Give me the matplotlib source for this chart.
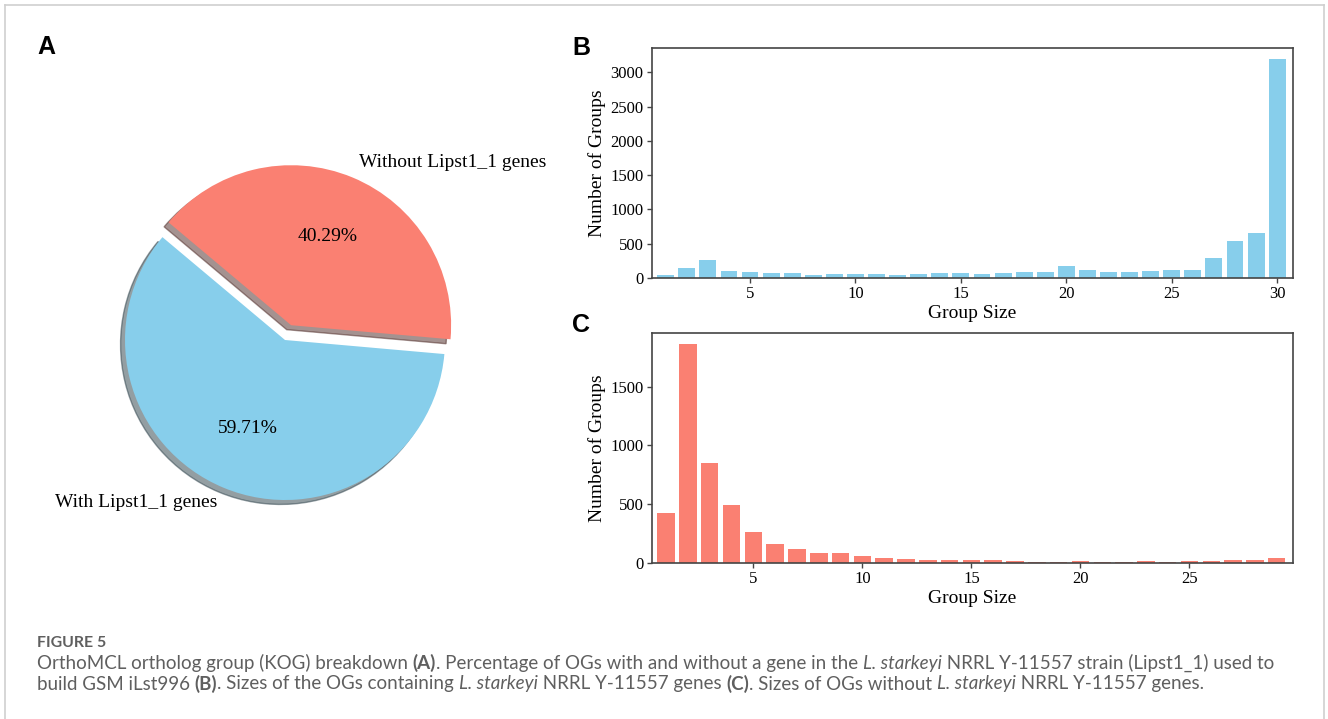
import matplotlib
matplotlib.use("Agg")
import matplotlib.pyplot as plt
from matplotlib.lines import Line2D

# ---------------- data ----------------
pie_labels = ["With Lipst1_1 genes", "Without Lipst1_1 genes"]
pie_sizes = [59.71, 40.29]

sizes_b = list(range(1, 31))
counts_b = [40, 150, 258, 102, 88, 68, 68, 44, 58, 58,
            58, 44, 58, 68, 68, 58, 78, 88, 88, 175,
            117, 88, 88, 102, 112, 122, 287, 536, 653, 3195]

sizes_c = list(range(1, 30))
counts_c = [428, 1863, 851, 491, 264, 164, 119, 82, 82, 60,
            40, 34, 28, 28, 28, 23, 17, 12, 12, 17,
            12, 12, 17, 12, 17, 17, 28, 28, 45]

yticks_b = [0, 500, 1000, 1500, 2000, 2500, 3000]
yticks_c = [0, 500, 1000, 1500]
xticks_b = [5, 10, 15, 20, 25, 30]
xticks_c = [5, 10, 15, 20, 25]

xlabel = "Group Size"
ylabel = "Number of Groups"

caption_title = "FIGURE 5"
caption_line1 = [
    ("OrthoMCL ortholog group (KOG) breakdown ", "normal", "normal"),
    ("(A)", "bold", "normal"),
    (". Percentage of OGs with and without a gene in the ", "normal", "normal"),
    ("L. starkeyi", "normal", "italic"),
    (" NRRL Y-11557 strain (Lipst1_1) used to", "normal", "normal"),
]
caption_line2 = [
    ("build GSM iLst996 ", "normal", "normal"),
    ("(B)", "bold", "normal"),
    (". Sizes of the OGs containing ", "normal", "normal"),
    ("L. starkeyi", "normal", "italic"),
    (" NRRL Y-11557 genes ", "normal", "normal"),
    ("(C)", "bold", "normal"),
    (". Sizes of OGs without ", "normal", "normal"),
    ("L. starkeyi", "normal", "italic"),
    (" NRRL Y-11557 genes.", "normal", "normal"),
]

# ---------------- style ----------------
BLUE = "#87CEEB"
RED = "#FA8072"
SERIF = ["Liberation Serif", "DejaVu Serif"]
W, H = 1328, 719

fig = plt.figure(figsize=(W / 100, H / 100), dpi=100)
fig.patch.set_facecolor("white")


def px_axes(left, top, right, bottom):
    return fig.add_axes([left / W, (H - bottom) / H, (right - left) / W, (bottom - top) / H])


# ---------------- Panel A: pie ----------------
cx, cy, R = 285, 340, 160
k = 1.25
axA = px_axes(cx - R * k, cy - R * k, cx + R * k, cy + R * k)
wedges, texts, autotexts = axA.pie(
    pie_sizes, labels=pie_labels, colors=[BLUE, RED], explode=(0, 0.1),
    autopct="%1.2f%%", shadow=True, startangle=140,
    textprops=dict(fontsize=14, family=SERIF))
axA.set_aspect("equal")
axA.set_xlim(-k, k)
axA.set_ylim(-k, k)
axA.axis("off")


# ---------------- Panels B, C: bars ----------------
def bar_panel(ax, xs, ys, color, yticks, xticks):
    ax.bar(xs, ys, width=0.8, color=color)
    ax.set_xlim(0.35, xs[-1] + 0.75)
    ax.set_xticks(xticks)
    ax.set_yticks(yticks)
    ax.set_xlabel(xlabel, fontsize=14, family=SERIF, labelpad=2)
    ax.set_ylabel(ylabel, fontsize=14, family=SERIF, labelpad=3)
    for lab in ax.get_xticklabels() + ax.get_yticklabels():
        lab.set_family(SERIF)
        lab.set_fontsize(12)
    for sp in ax.spines.values():
        sp.set_color("#444444")
        sp.set_linewidth(1.2)
    ax.tick_params(length=3.5, width=1, color="#444444", pad=2.5)


axB = px_axes(652, 48, 1293, 278)
bar_panel(axB, sizes_b, counts_b, BLUE, yticks_b, xticks_b)
axC = px_axes(652, 333, 1293, 563)
bar_panel(axC, sizes_c, counts_c, RED, yticks_c, xticks_c)

# ---------------- panel letters ----------------
for letter, x, y in [("A", 37, 47), ("B", 572, 48), ("C", 572, 325)]:
    fig.text(x / W, 1 - y / H, letter, fontsize=18, fontweight="bold",
             family=["Liberation Sans", "DejaVu Sans"], ha="left", va="center")

# ---------------- border ----------------
fig.add_artist(Line2D([4.5 / W, 4.5 / W], [0, 1 - 4.5 / H], color="#cfcfcf", lw=1.2,
                      transform=fig.transFigure))
fig.add_artist(Line2D([4.5 / W, 1323.5 / W], [1 - 4.5 / H, 1 - 4.5 / H], color="#cfcfcf",
                      lw=1.2, transform=fig.transFigure))
fig.add_artist(Line2D([1323.5 / W, 1323.5 / W], [0, 1 - 4.5 / H], color="#cfcfcf", lw=1.2,
                      transform=fig.transFigure))

# ---------------- caption ----------------
CAP_FONT = ["Lato", "DejaVu Sans"]
CAP_COLOR = "#5f5f5f"
renderer = fig.canvas.get_renderer()


def seg_width(s, size, weight, style):
    t1 = fig.text(0, 0, "|" + s + "|", fontsize=size, fontweight=weight, fontstyle=style,
                  family=CAP_FONT)
    t2 = fig.text(0, 0, "||", fontsize=size, fontweight=weight, fontstyle=style,
                  family=CAP_FONT)
    w = t1.get_window_extent(renderer).width - t2.get_window_extent(renderer).width
    t1.remove()
    t2.remove()
    return w


def line_width(segs, size):
    return sum(seg_width(s, size, wt, st) for s, wt, st in segs)


def draw_line(segs, x, y, size):
    cur = x
    for s, wt, st in segs:
        fig.text(cur / W, 1 - y / H, s, fontsize=size, fontweight=wt, fontstyle=st,
                 family=CAP_FONT, color=CAP_COLOR, ha="left", va="center")
        cur += seg_width(s, size, wt, st)


base = 12.0
s1 = base * 1228 / line_width(caption_line1, base)
s2 = base * 1203 / line_width(caption_line2, base)
cap_size = min(s1, s2)

fig.text(37 / W, 1 - 643 / H, caption_title, fontsize=cap_size * 0.85, fontweight="bold",
         family=CAP_FONT, color=CAP_COLOR, ha="left", va="center")
draw_line(caption_line1, 37, 663, cap_size)
draw_line(caption_line2, 37, 684, cap_size)

fig.savefig("out.png", dpi=100, facecolor="white")
